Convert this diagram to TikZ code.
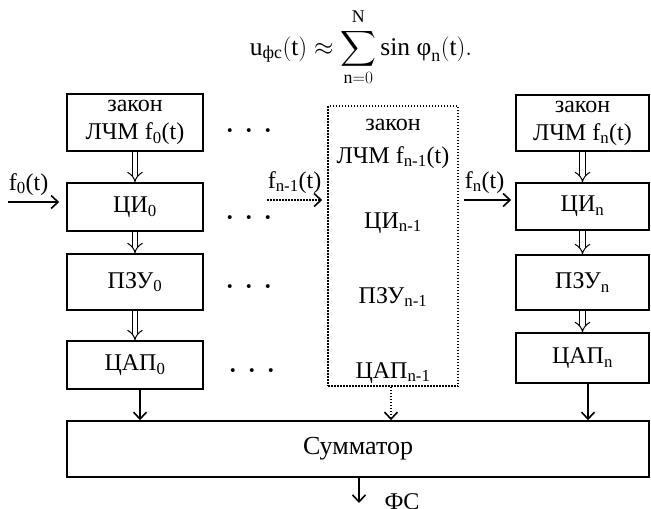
\documentclass[tikz,border=0pt]{standalone}
\usepackage{amsmath}
\usepackage{fontspec}
\setmainfont{Liberation Serif}
\usetikzlibrary{arrows.meta}
\tikzset{
    blok/.style={draw, line width=1.5pt, inner sep=0pt, align=center},
    dotblok/.style={draw, line width=1.5pt, dash pattern=on 1.5pt off 1.5pt, inner sep=0pt},
    dbl/.style={double, double distance=4.5pt, line width=1pt, -{Implies[length=7pt,width=14pt]}},
    arr/.style={line width=1.6pt, -{Straight Barb[length=7pt,width=13pt]}},
    darr/.style={arr, dash pattern=on 1.5pt off 1.5pt},
    lbl/.style={inner sep=0pt, anchor=south west, yshift=6pt},
    tochki/.style={font=\fontsize{24}{28}\selectfont\bfseries}
}
\begin{document}
\begin{tikzpicture}[x=1pt, y=-1pt, font=\fontsize{24}{28}\selectfont]
    \useasboundingbox (0,0) rectangle (651,509);
    % formula
    \node[anchor=base, font=\fontsize{25.5}{28}\selectfont] (formula) at (361,55) {$\displaystyle \text{u}_{\text{фс}}(\text{t}) \approx \sum_{\text{n}=0}^{\rule[-4pt]{0pt}{4pt}\text{N}}\text{sin}\ \text{φ}_{\text{n}}(\text{t}).$};
    % left column
    \node[blok, minimum width=136pt, minimum height=57pt] (lawA) at (135,122.5) {закон\\ЛЧМ f\textsubscript{0}(t)};
    \node[blok, minimum width=136pt, minimum height=48pt] (ciA) at (135,207) {ЦИ\textsubscript{0}};
    \node[blok, minimum width=136pt, minimum height=56pt] (pzuA) at (135,282) {ПЗУ\textsubscript{0}};
    \node[blok, minimum width=136pt, minimum height=48pt] (capA) at (135,365) {ЦАП\textsubscript{0}};
    % dots
    \node[tochki] (dotsA) at (249,134) {·\hspace{11pt}·\hspace{11pt}·};
    \node[tochki] (dotsB) at (249,221) {·\hspace{11pt}·\hspace{11pt}·};
    \node[tochki] (dotsC) at (249,290) {·\hspace{11pt}·\hspace{11pt}·};
    \node[tochki] (dotsD) at (252,374) {·\hspace{11pt}·\hspace{11pt}·};
    % middle column (dotted)
    \node[dotblok, minimum width=130pt, minimum height=280pt] (mid) at (393,246) {};
    \node[anchor=base] (lawM) at (393,130) {закон};
    \node[anchor=base] (lchmM) at (393,163) {ЛЧМ f\textsubscript{n-1}(t)};
    \node[anchor=base] (ciM) at (393,228) {ЦИ\textsubscript{n-1}};
    \node[anchor=base] (pzuM) at (393,303) {ПЗУ\textsubscript{n-1}};
    \node[anchor=base] (capM) at (393,378) {ЦАП\textsubscript{n-1}};
    % right column
    \node[blok, minimum width=133pt, minimum height=56pt] (lawN) at (582.5,123) {закон\\ЛЧМ f\textsubscript{n}(t)};
    \node[blok, minimum width=133pt, minimum height=47pt] (ciN) at (582.5,206.5) {ЦИ\textsubscript{n}};
    \node[blok, minimum width=133pt, minimum height=55pt] (pzuN) at (582.5,282.5) {ПЗУ\textsubscript{n}};
    \node[blok, minimum width=133pt, minimum height=50pt] (capN) at (582.5,358) {ЦАП\textsubscript{n}};
    % adder
    \node[blok, minimum width=582pt, minimum height=56pt, font=\fontsize{26}{28}\selectfont] (sum) at (358,449) {Сумматор};
    % inputs
    \coordinate (inA) at (8,202);
    \coordinate (inM) at (267,200);
    \coordinate (inN) at (464,200);
    \draw[arr, shorten >=7pt] (inA) -- (ciA.west |- inA) node[lbl, pos=0] {f\textsubscript{0}(t)};
    \draw[darr, shorten >=5pt] (inM) -- (mid.west |- inM) node[lbl, pos=0] {f\textsubscript{n-1}(t)};
    \draw[arr, shorten >=4pt] (inN) -- (ciN.west |- inN) node[lbl, pos=0] {f\textsubscript{n}(t)};
    % hollow arrows
    \draw[dbl] (lawA) -- (ciA);
    \draw[dbl] (ciA) -- (pzuA);
    \draw[dbl] (pzuA) -- (capA);
    \draw[dbl] (lawN) -- (ciN);
    \draw[dbl] (ciN) -- (pzuN);
    \draw[dbl] (pzuN) -- (capN);
    % to adder
    \draw[arr] ([xshift=5pt]capA.south) -- ([xshift=5pt]capA.south |- sum.north);
    \draw[darr] ([xshift=-2pt]mid.south) -- ([xshift=-2pt]mid.south |- sum.north);
    \draw[arr] ([xshift=5.5pt]capN.south) -- ([xshift=5.5pt]capN.south |- sum.north);
    % output
    \coordinate (out) at (359,503);
    \draw[arr] (sum.south -| out) -- (out);
    \node[anchor=base west] (fs) at (381,509) {ФС};
\end{tikzpicture}
\end{document}
